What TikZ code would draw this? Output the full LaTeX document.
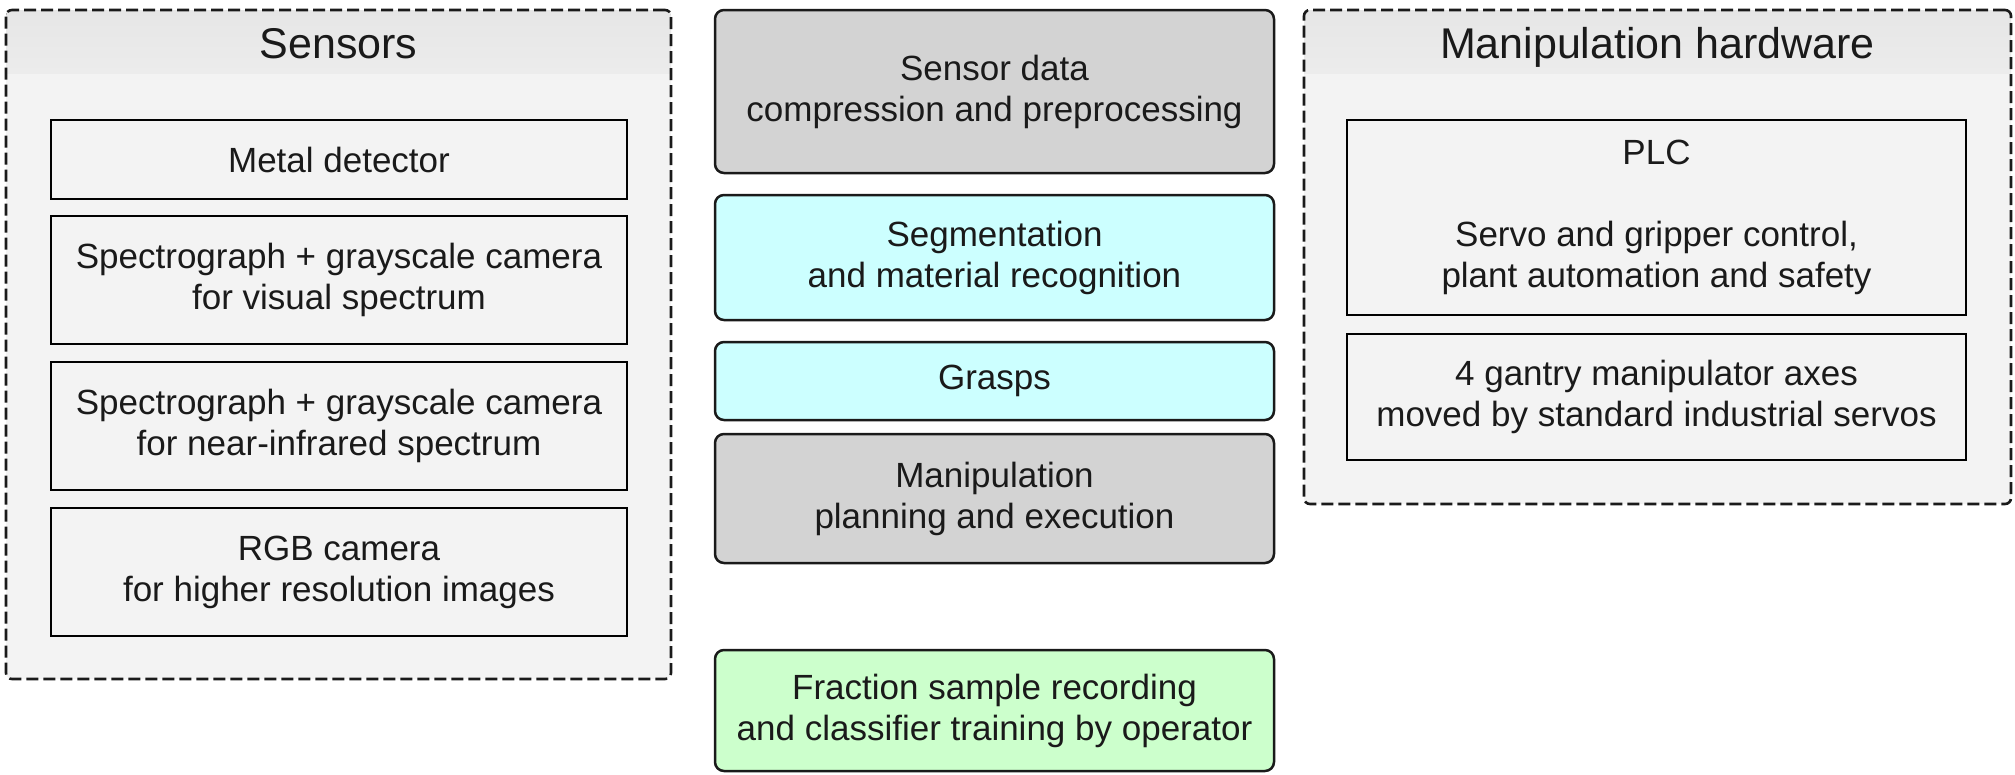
\documentclass[tikz,border=0pt]{standalone}
\usepackage{fontspec}
\setmainfont{Liberation Sans}
\definecolor{txt}{HTML}{1A1A1A}
\definecolor{contfill}{HTML}{F3F3F3}
\definecolor{bandtop}{HTML}{E6E6E6}
\definecolor{bandbot}{HTML}{ECECEC}
\definecolor{grayfill}{HTML}{D3D3D3}
\definecolor{cyanfill}{HTML}{CCFFFF}
\definecolor{greenfill}{HTML}{CCFFCC}
\definecolor{edge}{HTML}{1A1A1A}
\tikzset{
  base/.style={font=\fontsize{35}{41}\selectfont, text=txt, align=center, inner sep=0pt, line width=2.5pt},
  container/.style={draw=edge, fill=contfill, line width=2.6pt, dash pattern=on 12pt off 5pt, rounded corners=6pt, inner sep=0pt},
  inbox/.style={base, draw=black, fill=contfill},
  sbox/.style={inbox, minimum width=576pt},
  hbox/.style={inbox, minimum width=619pt},
  mbox/.style={base, draw=edge, rounded corners=9pt, minimum width=559pt},
  grayb/.style={mbox, fill=grayfill},
  cyanb/.style={mbox, fill=cyanfill},
  greenb/.style={mbox, fill=greenfill},
  titletext/.style={font=\fontsize{43}{50}\selectfont, text=txt, inner sep=0pt, anchor=base},
}
\begin{document}
\begin{tikzpicture}[x=1pt,y=-1pt]
\useasboundingbox[fill=white] (0,0) rectangle (2015,774);

% Sensors container
\node[container, fill=contfill, minimum width=665pt, minimum height=669pt, draw=none] (senscont) at (338.5,344.5) {};
\begin{scope}
  \clip[rounded corners=6pt] (6,10) rectangle (671,679);
  \fill[top color=bandtop, bottom color=bandbot] (6,10) rectangle (671,73);
\end{scope}
\node[container, fill=none, minimum width=665pt, minimum height=669pt] (sensborder) at (338.5,344.5) {};
\node[titletext] (senstitle) at (338.5,58) {Sensors};

\node[sbox, minimum height=79pt] (metal) at (339,159.5) {Metal detector};
\node[sbox, minimum height=128pt] (specvis) at (339,280) {Spectrograph + grayscale camera\\for visual spectrum};
\node[sbox, minimum height=128pt] (specnir) at (339,426) {Spectrograph + grayscale camera\\for near-infrared spectrum};
\node[sbox, minimum height=128pt] (rgb) at (339,572) {RGB camera\\for higher resolution images};

% Middle column
\node[grayb, minimum height=163pt] (sensdata) at (994.5,91.5) {Sensor data\\compression and preprocessing};
\node[cyanb, minimum height=125pt] (segm) at (994.5,257.5) {Segmentation\\and material recognition};
\node[cyanb, minimum height=78pt] (grasps) at (994.5,381) {Grasps};
\node[grayb, minimum height=129pt] (manip) at (994.5,498.5) {Manipulation\\planning and execution};
\node[greenb, minimum height=121pt] (fraction) at (994.5,710.5) {Fraction sample recording\\and classifier training by operator};

% Manipulation hardware container
\node[container, fill=contfill, minimum width=707pt, minimum height=494pt, draw=none] (hwcont) at (1657.5,257) {};
\begin{scope}
  \clip[rounded corners=6pt] (1304,10) rectangle (2011,504);
  \fill[top color=bandtop, bottom color=bandbot] (1304,10) rectangle (2011,73);
\end{scope}
\node[container, fill=none, minimum width=707pt, minimum height=494pt] (hwborder) at (1657.5,257) {};
\node[titletext] (hwtitle) at (1657.5,58) {Manipulation hardware};

\node[hbox, minimum height=195pt] (plc) at (1656.5,217.5) {PLC\\[41pt]Servo and gripper control,\\plant automation and safety};
\node[hbox, minimum height=126pt] (gantry) at (1656.5,397) {4 gantry manipulator axes\\moved by standard industrial servos};
\end{tikzpicture}
\end{document}
